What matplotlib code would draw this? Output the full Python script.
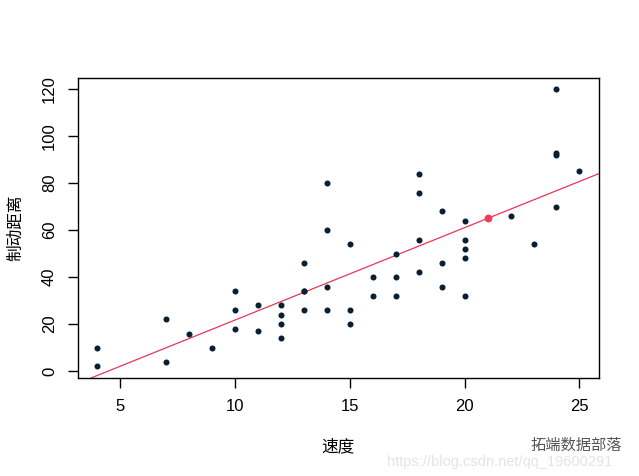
import numpy as np
import matplotlib
matplotlib.use("Agg")
import matplotlib.pyplot as plt

plt.rcParams["font.family"] = ["Liberation Sans", "Noto Sans CJK SC", "DejaVu Sans"]

# cars data: speed vs stopping distance
speed = [4, 4, 7, 7, 8, 9, 10, 10, 10, 11, 11, 12, 12, 12, 12, 13, 13, 13, 13,
         14, 14, 14, 14, 15, 15, 15, 16, 16, 17, 17, 17, 18, 18, 18, 18, 19, 19,
         19, 20, 20, 20, 20, 20, 22, 23, 24, 24, 24, 24, 25]
dist = [2, 10, 4, 22, 16, 10, 18, 26, 34, 17, 28, 14, 20, 24, 28, 26, 34, 34, 46,
        26, 36, 60, 80, 20, 26, 54, 32, 40, 32, 40, 50, 42, 56, 76, 84, 36, 46,
        68, 32, 48, 52, 56, 64, 66, 54, 70, 92, 93, 120, 85]
pred_speed = [21]
pred_dist = [65]
x_ticks = [5, 10, 15, 20, 25]
y_ticks = [0, 20, 40, 60, 80, 100, 120]

slope, intercept = np.polyfit(speed, dist, 1)

fig = plt.figure(figsize=(6.39, 4.76), dpi=100)
ax = fig.add_axes([0.122, 0.206, 0.815, 0.630])

ax.scatter(speed, dist, s=19, color="#0b1f33", zorder=3, linewidths=0)
ax.axline((0, intercept), slope=slope, color="#e8365a", lw=0.9, zorder=2)
ax.scatter(pred_speed, pred_dist, s=32, color="#f03c5a", zorder=4, linewidths=0)

ax.set_xlim(3.16, 25.84)
ax.set_ylim(-2.9, 124.72)
ax.set_xticks(x_ticks)
ax.set_yticks(y_ticks)
ax.set_yticklabels([str(v) for v in y_ticks], rotation=90, va="center")
ax.tick_params(direction="out", length=7, width=1, labelsize=12, pad=8,
               color="black")
for s in ax.spines.values():
    s.set_linewidth(1)
ax.set_xlabel("速度", fontsize=12, labelpad=18)
ax.set_ylabel("制动距离", fontsize=12, labelpad=14)

# watermark
fig.text(0.83, 0.055, "拓端数据部落", fontsize=11, color="#555555")
fig.text(0.605, 0.02, "https://blog.csdn.net/qq_19600291", fontsize=10.5,
         color="#e4e4e4")

fig.savefig("out.png", dpi=100)
